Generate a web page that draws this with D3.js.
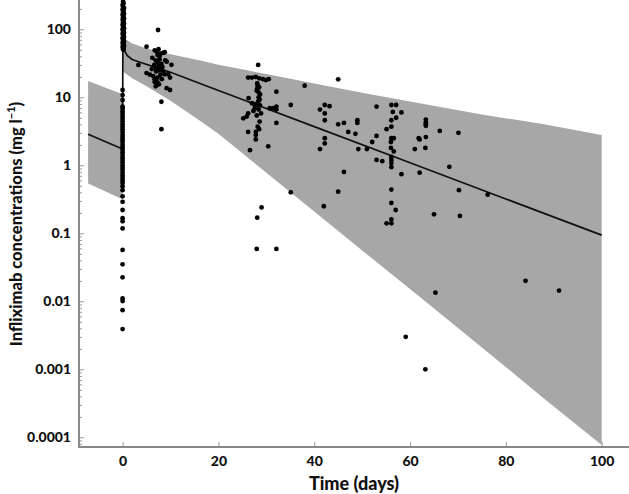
<!DOCTYPE html>
<html><head><meta charset="utf-8">
<script src="https://cdn.jsdelivr.net/npm/d3@7"></script>
<style>body{margin:0;background:#fff}svg{display:block}text{font-family:Lato,"Open Sans",sans-serif;font-weight:900;fill:#111}</style>
</head><body>
<svg id="c" width="629" height="494"></svg>
<script>
// ---- data ----
const xTicks = [0, 20, 40, 60, 80, 100];
const yTicks = [0.0001, 0.001, 0.01, 0.1, 1, 10, 100];
const yTickLabels = ["0.0001", "0.001", "0.01", "0.1", "1", "10", "100"];

// prediction band & median before dose
const preDays = [-7.2, 0];
const preUpper = [17.4, 11.1];
const preLower = [0.54, 0.316];
// prediction band after dose
const postDays = [0.05, 2, 5, 10, 16, 20, 30, 40, 50, 62, 75, 88, 100];
const postUpper = [76, 62, 52, 43, 35, 30, 22, 16, 11.7, 8.2, 5.6, 4.0, 2.8];
const postLower = [24, 19, 14.5, 8.9, 4.6, 2.9, 0.78, 0.21, 0.056, 0.0117, 0.0021, 0.00037, 0.000077];
// median prediction
const medDays = [-7.2, 0, 0.05, 0.5, 1, 2, 3.5, 10, 20, 40, 60, 80, 100];
const medConc = [2.86, 1.74, 55, 47, 41, 36, 33, 23.3, 12.6, 3.7, 1.09, 0.32, 0.094];

// observations: [time (days), concentration (mg/l)]
const obsPeak = [[0.1,255],[0.2,240],[0,228],[0.1,215],[0.3,205],[0,195],[0.2,186],[0.1,178],[0.3,170],[0,163],[0.2,156],[0.1,150],[0.3,144],[0,138],[0.2,132],[0.1,127],[0.3,122],[0,117],[0.2,112],[0.1,108],[0.3,104],[0,100],[0.2,96],[0.1,92],[0.3,89],[0,86],[0.2,83],[0.1,80],[0.3,77],[0,74],[0.2,71],[0.1,68],[0.3,66],[0,63],[0.2,61],[0.1,59],[0.3,57],[0,55],[0.2,53],[0.1,51],[0.2,50]];
const obsTrough = [[0,12.8],[0,10.8],[0,9.1],[0,7.3],[0,6.8],[0,6.2],[0,5.7],[0,5.2],[0,4.8],[0,4.4],[0,4.0],[0,3.7],[0,3.4],[0,3.1],[0,2.8],[0,2.6],[0,2.4],[0,2.2],[0,2.0],[0,1.85],[0,1.7],[0,1.55],[0,1.42],[0,1.3],[0,1.2],[0,1.1],[0,1.0],[0,0.92],[0,0.85],[0,0.78],[0,0.71],[0,0.65],[0,0.6],[0,0.55],[0,0.49],[0,0.43],[0,0.35],[0,0.29],[0,0.22],[0,0.167],[0,0.15],[0,0.118],[0,0.057],[0,0.035],[0,0.0225],[0,0.011],[0,0.0101],[0,0.0074],[0,0.0039]];
const obsWeek1 = [[7.4,97.7],[5.0,55.5],[6.7,49],[7.1,47],[7.5,51],[7.9,44],[8.4,45],[8.8,46],[7.3,42],[7.7,40],[6.9,35],[7.3,33],[7.7,36],[8.1,31],[7.5,29],[7.0,27],[7.9,26],[3.3,29.9],[5.0,22.7],[5.7,21.5],[6.4,20.5],[6.7,18.5],[7.3,19.5],[7.9,21.5],[8.2,18.5],[8.8,21.8],[9.5,21.8],[9.9,19.5],[6.7,16.8],[7.3,16.5],[9.2,13.6],[9.9,12.8],[8.1,8.6],[8.1,3.4],[10.2,30],[9.2,33.4],[8.5,23.8],[6.2,38],[6.6,30],[8.3,28],[7.0,24],[7.6,25],[6.1,26],[8.9,35],[6.9,14.5],[7.6,15.5]];
const obsDay28 = [[28.3,29.9],[29.9,17.9],[26.2,19.5],[27.0,19.5],[27.8,20],[28.5,19],[29.3,18.5],[30.5,18.5],[28.1,16],[28.2,15],[28.5,14],[28.1,13.5],[28.0,12.5],[28.4,11.8],[28.7,11],[28.4,10],[26.3,9.7],[28.6,9.2],[28.3,8.7],[27.0,8.2],[27.4,7.9],[28.1,8],[28.7,7.6],[27.9,7.2],[27.6,6.9],[28.4,6.6],[27.3,6.3],[26.2,5.8],[28.9,5.8],[28.0,5.4],[25.2,4.9],[25.9,5.2],[28.6,4.4],[28.2,3.7],[28.5,3.4],[26.2,3.1],[27.8,3.1],[27.8,2.8],[27.8,2.4],[26.6,1.67],[30.4,1.9],[29.0,0.24],[28.1,0.17],[28.0,0.059],[31.4,6.9],[32.1,7.3],[30.7,6.9],[32.1,6.6],[35.1,7.7],[32.1,12.1],[32.1,4.2],[35.1,0.4],[32.1,0.059],[38.0,14.8]];
const obsLater = [[41.2,6.6],[42.2,7.7],[42.2,5.8],[42.2,4.6],[43.2,7.4],[41.2,1.73],[42.2,2.5],[42.2,2.1],[45.0,4.0],[46.2,4.2],[47.1,3.1],[48.6,2.9],[49.0,4.6],[49.0,4.2],[49.2,1.73],[51.0,1.73],[45.0,18.4],[46.2,0.8],[45.0,0.41],[42.0,0.25],
 [53.0,7.3],[52.1,2.2],[53.0,2.7],[53.0,1.2],[54.2,1.15],[56.1,7.7],[57.1,7.7],[56.4,6.1],[58.2,6.0],[56.1,4.6],[57.1,5.0],[56.1,3.7],[55.1,3.4],[56.1,2.5],[56.6,2.5],[56.0,2.2],[56.0,1.8],[56.6,1.6],[56.1,1.33],[56.1,1.2],[56.1,1.08],[56.1,0.94],[61.0,1.73],[61.8,2.5],[58.2,0.74],[56.1,0.44],[56.1,0.28],[57.0,0.22],[55.1,0.14],[56.1,0.16],[56.1,0.14],[59.1,0.003],
 [63.3,4.7],[63.3,4.3],[63.3,4.0],[63.3,3.8],[66.2,3.2],[70.1,3.0],[62.0,2.4],[63.3,2.6],[63.2,1.8],[68.2,0.95],[62.0,0.78],[70.2,0.43],[76.2,0.37],[65.0,0.19],[70.4,0.18],[65.3,0.0134],[63.2,0.001],[84.1,0.02],[91.1,0.0144]];

// ---- chart ----
const svg = d3.select("#c");
const x = d3.scaleLinear().domain([-9.1, 105.7]).range([79, 629]);
const y = d3.scaleLog().domain([1e-4, 100]).range([437.3, 29.3]);
const yTop = y.invert(0), yBot = y.invert(447);

const area = d3.area().x(d => x(d[0])).y0(d => y(d[2])).y1(d => y(d[1]));
svg.append("path").datum(preDays.map((d,i)=>[d,preUpper[i],preLower[i]]))
  .attr("d", area).attr("fill", "#a7a7a7");
svg.append("path").datum(postDays.map((d,i)=>[d,postUpper[i],postLower[i]]))
  .attr("d", area).attr("fill", "#a7a7a7");

const line = d3.line().x(d => x(d[0])).y(d => y(d[1]));
svg.append("path").datum(medDays.map((d,i)=>[d,medConc[i]]))
  .attr("d", line).attr("fill","none").attr("stroke","#111").attr("stroke-width",1.7);

const obs = [].concat(obsPeak, obsTrough, obsWeek1, obsDay28, obsLater);
svg.append("g").selectAll("circle").data(obs).join("circle")
  .attr("cx", d => x(d[0])).attr("cy", d => y(d[1])).attr("r", 2.4).attr("fill", "#000");

// axes
const minor = [];
for (let e = -5; e <= 2; e++) for (let m = 2; m <= 9; m++) { const v = m * Math.pow(10, e); if (v >= yBot && v <= yTop) minor.push(v); }
const gy = svg.append("g").attr("transform", "translate(79,0)");
gy.call(d3.axisLeft(y).tickValues(minor).tickSize(-3).tickFormat(""));
gy.call(g => g.select(".domain").remove());
const gy2 = svg.append("g").attr("transform", "translate(79,0)");
gy2.call(d3.axisLeft(y).tickValues(yTicks).tickSize(-5).tickPadding(8).tickFormat((d,i) => yTickLabels[i]));
gy2.call(g => g.select(".domain").remove());
svg.selectAll(".tick line").attr("stroke", "#999");
gy2.selectAll("text").attr("font-size", 14).attr("fill","#111");

const gx = svg.append("g").attr("transform", "translate(0,447)");
gx.call(d3.axisBottom(x).tickValues(xTicks).tickSize(-5).tickPadding(9));
gx.call(g => g.select(".domain").remove());
gx.selectAll(".tick line").attr("stroke", "#999");
gx.selectAll("text").attr("font-size", 14).attr("fill","#111");

svg.append("line").attr("x1",79).attr("x2",79).attr("y1",0).attr("y2",447).attr("stroke","#888").attr("stroke-width",2);
svg.append("line").attr("x1",78).attr("x2",629).attr("y1",447).attr("y2",447).attr("stroke","#888").attr("stroke-width",2);

svg.append("text").attr("x",354).attr("y",490).attr("text-anchor","middle").attr("font-size",18).text("Time (days)");
const yl = svg.append("text").attr("transform","translate(22,224) rotate(-90)").attr("text-anchor","middle").attr("font-size",16.5);
yl.append("tspan").text("Infliximab concentrations (mg l");
yl.append("tspan").attr("font-size",11).attr("dy",-7).text("−1");
yl.append("tspan").attr("dy",7).text(")");
</script>
</body></html>
